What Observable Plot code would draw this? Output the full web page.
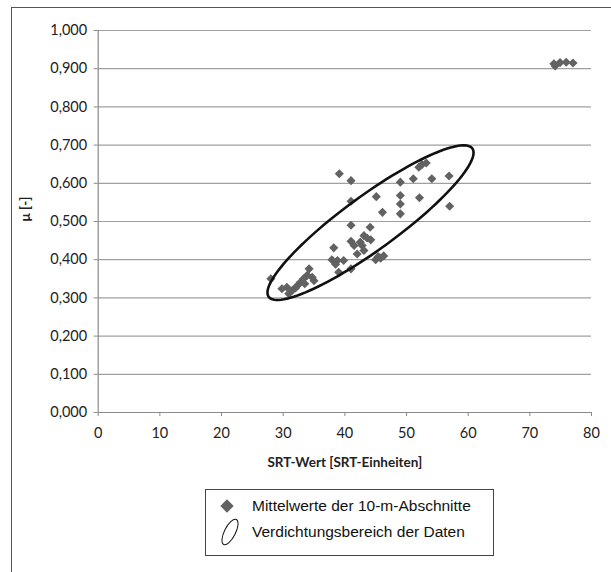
<!DOCTYPE html>
<html><head><meta charset="utf-8">
<script src="https://cdn.jsdelivr.net/npm/d3@7"></script>
<script src="https://cdn.jsdelivr.net/npm/@observablehq/plot@0.6"></script>
<style>
body{margin:0;background:#fff;}
#wrap{position:relative;width:611px;height:572px;overflow:hidden;font-family:Lato,"Open Sans",sans-serif;}
#border{position:absolute;left:11px;top:7px;width:620px;height:600px;border-left:1.5px solid #555;border-top:1.5px solid #555;}
#chart{position:absolute;left:0;top:0;}
#legend{position:absolute;left:205px;top:489px;width:287px;height:65px;border:1px solid #444;background:#fff;font-family:"Liberation Sans",Arial,sans-serif;font-size:15.5px;color:#111;}
#legend svg{position:absolute;}
#legend span{position:absolute;left:46px;white-space:nowrap;line-height:18px;height:18px;}
</style></head>
<body>
<div id="wrap">
  <div id="border"></div>
  <div id="chart"></div>
  <div id="legend"></div>
</div>
<script>
// SRT values (x) and friction coefficient mu (y)
const srt = [28.0,29.8,30.6,30.9,31.5,32.0,32.3,32.8,33.3,33.5,33.9,34.2,34.7,35.0,
  37.9,38.2,38.5,38.8,39.0,39.1,39.8,41.0,41.0,41.0,41.0,41.0,41.5,42.0,42.5,42.8,43.1,43.1,43.6,44.1,44.2,45.0,45.1,45.4,45.8,46.1,46.3,
  49.0,49.0,49.0,49.0,51.1,52.0,52.1,52.5,53.2,54.1,56.9,57.0,
  73.9,74.1,74.9,75.9,77.0];
const mu = [0.350,0.324,0.328,0.311,0.320,0.326,0.332,0.341,0.350,0.337,0.359,0.376,0.354,0.345,
  0.400,0.431,0.388,0.398,0.367,0.625,0.398,0.376,0.448,0.490,0.553,0.607,0.437,0.415,0.446,0.437,0.424,0.463,0.457,0.485,0.452,0.400,0.565,0.408,0.404,0.524,0.410,
  0.603,0.568,0.546,0.520,0.612,0.642,0.562,0.649,0.653,0.612,0.619,0.540,
  0.913,0.907,0.916,0.917,0.915];
const xTicks = [0,10,20,30,40,50,60,70,80];
const yTicks = [0,0.1,0.2,0.3,0.4,0.5,0.6,0.7,0.8,0.9,1.0];
const xLabel = "SRT-Wert [SRT-Einheiten]";
const yLabel = "μ [-]";
const legendLabels = ["Mittelwerte der 10-m-Abschnitte","Verdichtungsbereich der Daten"];
// annotation ellipse (density region) in data units: centre and two conjugate semi-axis vectors
const ellCenter = [44.16, 0.497];
const ellMajor = [16.51, 0.1942];
const ellMinor = [-2.58, 0.0571];

const points = srt.map((s,i)=>({x:s,y:mu[i]}));
const ell = d3.range(0,121).map(k=>{const t=k/120*2*Math.PI;return {x:ellCenter[0]+ellMajor[0]*Math.cos(t)+ellMinor[0]*Math.sin(t), y:ellCenter[1]+ellMajor[1]*Math.cos(t)+ellMinor[1]*Math.sin(t)};});

const fmt = d => d.toFixed(3).replace(".", ",");
const chart = Plot.plot({
  width:611, height:480,
  marginLeft:97.7, marginRight:20, marginTop:30, marginBottom:68,
  style:{fontFamily:"Lato, 'Open Sans', sans-serif", fontSize:"14.5px", color:"#222", background:"transparent"},
  x:{domain:[0,80]},
  y:{domain:[0,1]},
  marks:[
    Plot.gridY(yTicks.filter(d=>d>0), {stroke:"#a0a0a0", strokeOpacity:1, strokeWidth:1.2}),
    Plot.ruleX([0], {stroke:"#8a8a8a", strokeWidth:1.2}),
    Plot.ruleY([0], {stroke:"#8a8a8a", strokeWidth:1.2}),
    Plot.axisY({ticks:yTicks, tickFormat:fmt, tickSize:4, tickPadding:7, label:null, stroke:"#8a8a8a"}),
    Plot.axisX({ticks:xTicks, tickSize:4, tickPadding:11, label:null, stroke:"#8a8a8a"}),
    Plot.dot(points, {x:"x", y:"y", symbol:"diamond2", r:4.1, fill:"#626262", stroke:"none"}),
    Plot.line(ell, {x:"x", y:"y", stroke:"#111", strokeWidth:2.6, curve:"linear-closed"}),
    Plot.text([xLabel], {frameAnchor:"bottom", dy:54, fontWeight:"bold", fontSize:13.5, fill:"#222"}),
    Plot.text([yLabel], {frameAnchor:"left", dx:-73, rotate:-90, fontWeight:"bold", fontSize:13.5, fill:"#222"})
  ]
});
document.getElementById("chart").appendChild(chart);

const lg = document.getElementById("legend");
lg.innerHTML =
  `<svg width="20" height="20" style="left:11px;top:6px"><path d="M10,3.3L16.7,10L10,16.7L3.3,10Z" fill="#626262"/></svg>` +
  `<span style="top:7px">${legendLabels[0]}</span>` +
  `<svg width="30" height="34" style="left:9px;top:25px"><ellipse cx="15" cy="17" rx="14" ry="5.5" transform="rotate(-63 15 17)" fill="none" stroke="#111" stroke-width="1"/></svg>` +
  `<span style="top:33px">${legendLabels[1]}</span>`;
</script>
</body></html>
